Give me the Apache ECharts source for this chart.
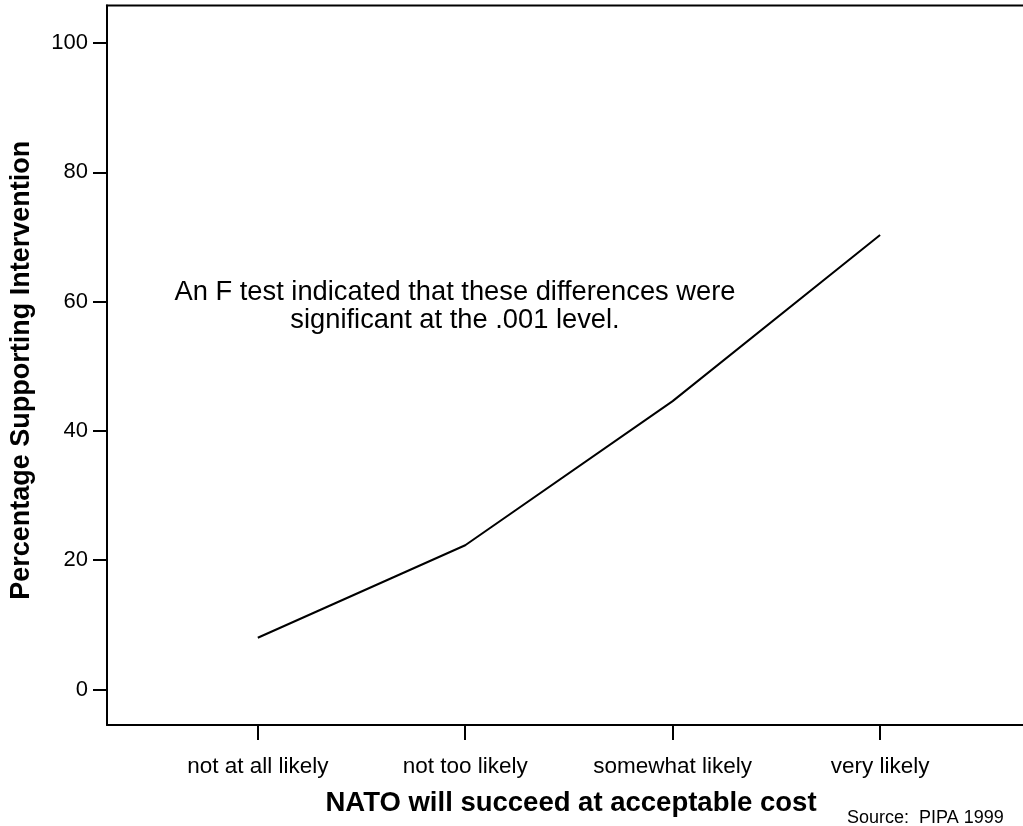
<!DOCTYPE html>
<html>
<head>
<meta charset="utf-8">
<script src="https://cdn.jsdelivr.net/npm/echarts@6/dist/echarts.min.js"></script>
<style>html,body{margin:0;padding:0;background:#fff}#c{width:1023px;height:826px}</style>
</head>
<body>
<div id="c"></div>
<script>
var categories = ['not at all likely', 'not too likely', 'somewhat likely', 'very likely'];
var support = [8.0, 22.3, 44.6, 70.3];
var yTicks = [0, 20, 40, 60, 80, 100];
var xPositions = [1, 2, 3, 4];

var font = 'Liberation Sans, Arial, Helvetica, sans-serif';
var chart = echarts.init(document.getElementById('c'), null, {renderer: 'canvas'});
chart.setOption({
  animation: false,
  backgroundColor: '#fff',
  grid: {left: 106, right: 0, top: 5.5, bottom: 101},
  xAxis: {
    type: 'value', min: 0.273, max: 4.689,
    name: 'NATO will succeed at acceptable cost',
    nameLocation: 'middle', nameGap: 64,
    nameTextStyle: {fontFamily: font, fontSize: 27.5, fontWeight: 'bold', color: '#000', padding: [0, 0, 0, 12]},
    axisLine: {show: true, onZero: false, lineStyle: {color: '#000', width: 2}},
    axisTick: {show: true, customValues: xPositions, length: 15, lineStyle: {color: '#000', width: 2}},
    axisLabel: {customValues: xPositions, margin: 30, fontFamily: font, fontSize: 22.5, color: '#000',
      formatter: function (v) { return categories[Math.round(v) - 1]; }},
    splitLine: {show: false}
  },
  yAxis: {
    type: 'value', min: -5.5, max: 105.8,
    name: 'Percentage Supporting Intervention',
    nameLocation: 'middle', nameGap: 72,
    nameTextStyle: {fontFamily: font, fontSize: 27, fontWeight: 'bold', color: '#000', padding: [0, 10, 0, 0]},
    axisLine: {show: true, lineStyle: {color: '#000', width: 2}},
    axisTick: {show: true, customValues: yTicks, length: 14, lineStyle: {color: '#000', width: 2}},
    axisLabel: {customValues: yTicks, margin: 19, fontFamily: font, fontSize: 22, color: '#000'},
    splitLine: {show: false}
  },
  graphic: [
    {type: 'line', shape: {x1: 106, y1: 5.5, x2: 1023, y2: 5.5}, style: {stroke: '#000', lineWidth: 2}},
    {type: 'text', x: 455, y: 278, style: {text: 'An F test indicated that these differences were\nsignificant at the .001 level.',
      fontFamily: font, fontSize: 27.3, fill: '#000', align: 'center', lineHeight: 28}},
    {type: 'text', x: 847, y: 809, style: {text: 'Source:  PIPA 1999', fontFamily: font, fontSize: 18, fill: '#000'}}
  ],
  series: [{
    type: 'line',
    data: xPositions.map(function (x, i) { return [x, support[i]]; }),
    symbol: 'none',
    lineStyle: {color: '#000', width: 2}
  }]
});
</script>
</body>
</html>
